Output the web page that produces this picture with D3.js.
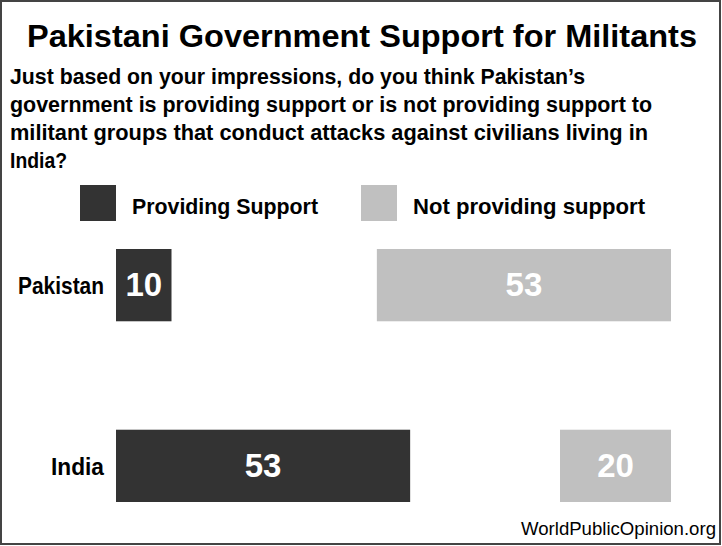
<!DOCTYPE html>
<html>
<head>
<meta charset="utf-8">
<script src="https://cdn.jsdelivr.net/npm/d3@7"></script>
<style>
  html, body { margin: 0; padding: 0; background: #fff; }
  svg { display: block; font-family: "Liberation Sans", Arial, sans-serif; }
</style>
</head>
<body>
<svg id="chart" width="722" height="546"></svg>
<script>
// ---- data ----
const categories = ["Pakistan", "India"];
const seriesNames = ["Providing Support", "Not providing support"];
const providingSupport = [10, 53];
const notProvidingSupport = [53, 20];
const titleText = "Pakistani Government Support for Militants";
const questionLines = [
  "Just based on your impressions, do you think Pakistan\u2019s",
  "government is providing support or is not providing support to",
  "militant groups that conduct attacks against civilians living in",
  "India?"
];
const sourceText = "WorldPublicOpinion.org";

// ---- layout ----
const W = 722, H = 546;
const colors = ["#333333", "#c0c0c0"];
const svg = d3.select("#chart");

svg.append("rect").attr("x", 1).attr("y", 1).attr("width", W - 3).attr("height", H - 3)
  .attr("fill", "#fff").attr("stroke", "#444").attr("stroke-width", 2);

svg.append("text").attr("x", 27).attr("y", 47)
  .attr("font-size", 32).attr("font-weight", "bold").attr("fill", "#000")
  .attr("textLength", 670).attr("lengthAdjust", "spacingAndGlyphs")
  .text(titleText);

const qLens = [575, 642, 638, 57];
questionLines.forEach((t, i) => {
  svg.append("text").attr("x", 10).attr("y", 84 + i * 28)
    .attr("font-size", 22).attr("font-weight", "bold").attr("fill", "#000")
    .attr("textLength", qLens[i]).attr("lengthAdjust", "spacingAndGlyphs")
    .text(t);
});

// legend
const legendX = [80, 361];
const legendLens = [186, 232];
seriesNames.forEach((n, i) => {
  svg.append("rect").attr("x", legendX[i]).attr("y", 185).attr("width", 36).attr("height", 36)
    .attr("fill", colors[i]);
  svg.append("text").attr("x", legendX[i] + 52).attr("y", 214)
    .attr("font-size", 22).attr("font-weight", "bold").attr("fill", "#000")
    .attr("textLength", legendLens[i]).attr("lengthAdjust", "spacingAndGlyphs")
    .text(n);
});

// scales
const x = d3.scaleLinear().domain([0, 100]).range([116, 671]);
const y = d3.scaleBand().domain(categories).range([249, 502]).paddingInner(0.6).paddingOuter(0);

const g = svg.append("g");
const rows = categories.map((c, i) => ({ c, p: providingSupport[i], n: notProvidingSupport[i] }));

// category labels
const catLens = { "Pakistan": 86, "India": 53 };
g.selectAll(".cat").data(rows).join("text")
  .attr("x", 104).attr("y", d => y(d.c) + y.bandwidth() / 2 + 9)
  .attr("text-anchor", "end").attr("font-size", 24).attr("font-weight", "bold").attr("fill", "#000")
  .attr("textLength", d => catLens[d.c]).attr("lengthAdjust", "spacingAndGlyphs")
  .text(d => d.c);

// providing support bars (from left)
g.selectAll(".bp").data(rows).join("rect")
  .attr("x", x(0)).attr("y", d => y(d.c))
  .attr("width", d => x(d.p) - x(0)).attr("height", y.bandwidth())
  .attr("fill", colors[0]);
g.selectAll(".lp").data(rows).join("text")
  .attr("x", d => (x(0) + x(d.p)) / 2).attr("y", d => y(d.c) + y.bandwidth() / 2 + 11)
  .attr("text-anchor", "middle").attr("font-size", 33).attr("font-weight", "bold").attr("fill", "#fff")
  .text(d => d.p);

// not providing support bars (right-aligned at 100)
g.selectAll(".bn").data(rows).join("rect")
  .attr("x", d => x(100 - d.n)).attr("y", d => y(d.c))
  .attr("width", d => x(100) - x(100 - d.n)).attr("height", y.bandwidth())
  .attr("fill", colors[1]);
g.selectAll(".ln").data(rows).join("text")
  .attr("x", d => (x(100 - d.n) + x(100)) / 2).attr("y", d => y(d.c) + y.bandwidth() / 2 + 11)
  .attr("text-anchor", "middle").attr("font-size", 33).attr("font-weight", "bold").attr("fill", "#fff")
  .text(d => d.n);

// source
svg.append("text").attr("x", 716).attr("y", 535).attr("text-anchor", "end")
  .attr("font-size", 18).attr("fill", "#000")
  .attr("textLength", 195).attr("lengthAdjust", "spacingAndGlyphs")
  .text(sourceText);
</script>
</body>
</html>
